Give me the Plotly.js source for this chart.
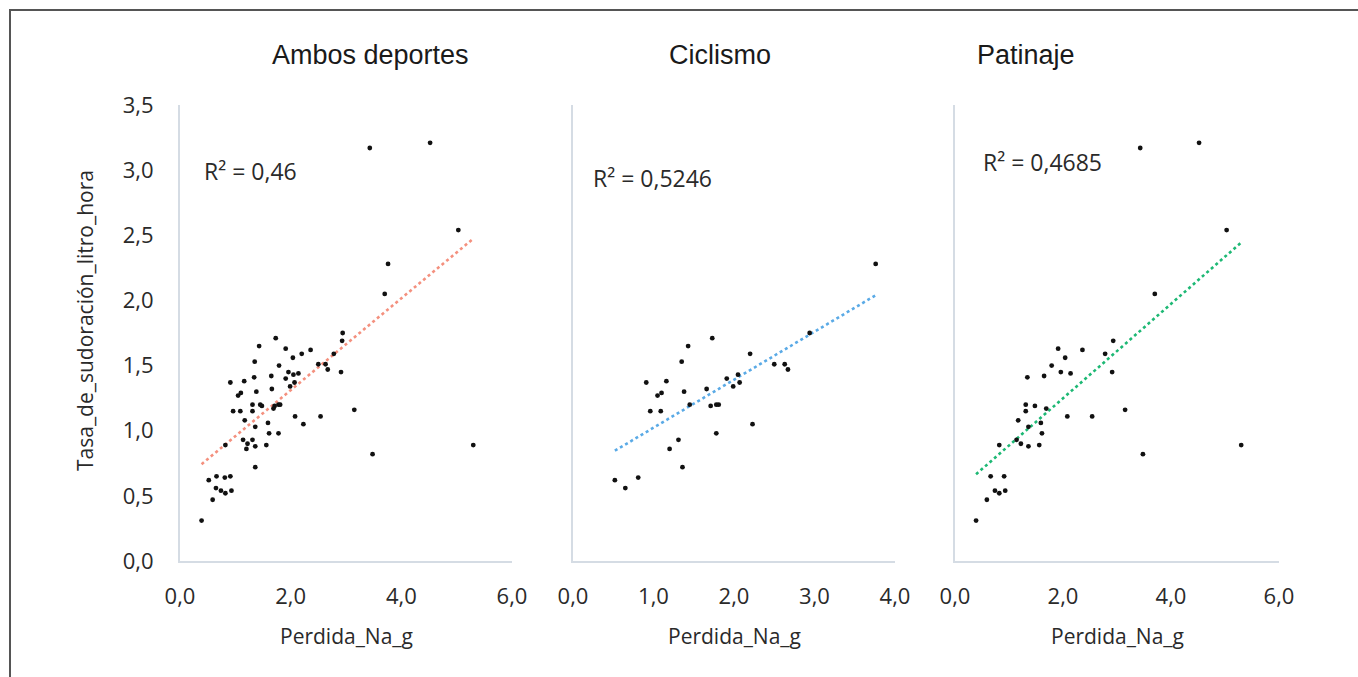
<!DOCTYPE html>
<html>
<head>
<meta charset="utf-8">
<script src="https://cdn.plot.ly/plotly-3.0.1.min.js"></script>
<style>html,body{margin:0;padding:0;background:#fff;}#chart{width:1358px;height:677px;}</style>
</head>
<body>
<div id="chart"></div>
<script>
// ---- Data ----
const panelTitles = ["Ambos deportes", "Ciclismo", "Patinaje"];
const xAxisTitle = "Perdida_Na_g";
const yAxisTitle = "Tasa_de_sudoración_litro_hora";
const r2Labels = ["R² = 0,46", "R² = 0,5246", "R² = 0,4685"];

const ciclismoNa = [3.76, 2.94, 1.73, 1.43, 2.20, 1.35, 2.50, 2.63, 2.67, 1.91, 2.05, 0.91, 1.16, 2.07, 1.99, 1.66, 1.38, 1.05, 1.10, 1.45, 1.71, 1.78, 1.81, 0.96, 1.09, 2.23, 1.78, 1.31, 1.20, 1.36, 0.52, 0.65, 0.81];
const ciclismoTasa = [2.28, 1.75, 1.71, 1.65, 1.59, 1.53, 1.51, 1.51, 1.47, 1.40, 1.43, 1.37, 1.38, 1.37, 1.34, 1.32, 1.30, 1.27, 1.29, 1.20, 1.19, 1.20, 1.20, 1.15, 1.15, 1.05, 0.98, 0.93, 0.86, 0.72, 0.62, 0.56, 0.64];

const patinajeNa = [3.43, 4.52, 5.03, 3.70, 2.93, 1.91, 2.36, 2.78, 2.04, 1.79, 1.96, 2.14, 2.91, 1.34, 1.65, 1.31, 1.31, 1.48, 1.69, 2.08, 2.54, 3.15, 1.17, 1.59, 1.36, 1.61, 1.14, 1.22, 1.36, 1.56, 0.82, 3.48, 5.30, 0.66, 0.91, 0.74, 0.82, 0.93, 0.59, 0.39];
const patinajeTasa = [3.17, 3.21, 2.54, 2.05, 1.69, 1.63, 1.62, 1.59, 1.56, 1.50, 1.45, 1.44, 1.45, 1.41, 1.42, 1.20, 1.15, 1.19, 1.17, 1.11, 1.11, 1.16, 1.08, 1.06, 1.03, 0.98, 0.93, 0.90, 0.88, 0.89, 0.89, 0.82, 0.89, 0.65, 0.65, 0.54, 0.52, 0.54, 0.47, 0.31];

const ambosNa = ciclismoNa.concat(patinajeNa);
const ambosTasa = ciclismoTasa.concat(patinajeTasa);

const xRanges = [[0, 6], [0, 4], [0, 6]];
const xDticks = [2, 1, 2];
const trendColors = ["#F4907E", "#5AAAE6", "#1DB874"];

// ---- Helpers ----
const W = 1358, H = 677;
const px = v => v / W, py = v => 1 - v / H;

function ols(x, y) {
  const n = x.length;
  const mx = x.reduce((a, b) => a + b, 0) / n;
  const my = y.reduce((a, b) => a + b, 0) / n;
  let sxy = 0, sxx = 0;
  for (let i = 0; i < n; i++) { sxy += (x[i] - mx) * (y[i] - my); sxx += (x[i] - mx) ** 2; }
  const b = sxy / sxx;
  return { b: b, a: my - b * mx };
}

const sets = [[ambosNa, ambosTasa], [ciclismoNa, ciclismoTasa], [patinajeNa, patinajeTasa]];
const plotLeft = [180, 573, 955], plotRight = [512, 895, 1279];
const plotTop = 105, plotBottom = 561;

const traces = [];
sets.forEach((s, i) => {
  const xa = i === 0 ? 'x' : 'x' + (i + 1);
  const ya = i === 0 ? 'y' : 'y' + (i + 1);
  const fit = ols(s[0], s[1]);
  const xmin = Math.min(...s[0]), xmax = Math.max(...s[0]);
  traces.push({
    x: [xmin, xmax], y: [fit.a + fit.b * xmin, fit.a + fit.b * xmax],
    xaxis: xa, yaxis: ya, mode: 'lines', type: 'scatter', hoverinfo: 'skip',
    line: { color: trendColors[i], width: 2.6, dash: 'dot' }
  });
  traces.push({
    x: s[0], y: s[1], xaxis: xa, yaxis: ya, mode: 'markers', type: 'scatter',
    marker: { size: 4.8, color: '#111111' }
  });
});

const tickFont = { family: 'Open Sans, sans-serif', size: 22, color: '#2a2a2a' };
const layout = {
  width: W, height: H,
  margin: { l: 0, r: 0, t: 0, b: 0 },
  paper_bgcolor: '#ffffff', plot_bgcolor: '#ffffff',
  showlegend: false,
  separators: ',.',
  annotations: [],
  shapes: [{
    type: 'rect', xref: 'paper', yref: 'paper',
    x0: px(10), x1: px(1380), y0: py(700), y1: py(10),
    line: { color: '#555555', width: 2 }, fillcolor: 'rgba(0,0,0,0)', layer: 'above'
  }]
};

for (let i = 0; i < 3; i++) {
  const sfx = i === 0 ? '' : String(i + 1);
  layout['xaxis' + sfx] = {
    domain: [px(plotLeft[i]), px(plotRight[i])],
    anchor: i === 0 ? 'y' : 'y' + (i + 1),
    range: xRanges[i], dtick: xDticks[i], tick0: 0, tickformat: '.1f',
    showgrid: false, zeroline: false, showline: true, linecolor: '#D5DCE4', linewidth: 2,
    ticks: '', ticklabelstandoff: 15, tickfont: tickFont, fixedrange: true
  };
  layout['yaxis' + sfx] = {
    domain: [py(plotBottom), py(plotTop)],
    anchor: i === 0 ? 'x' : 'x' + (i + 1),
    range: [0, 3.5], dtick: 0.5, tick0: 0, tickformat: '.1f',
    showgrid: false, zeroline: false, showline: true, linecolor: '#D5DCE4', linewidth: 2,
    ticks: '', ticklabelstandoff: 20, tickfont: tickFont, showticklabels: i === 0, fixedrange: true
  };
}

const titleFont = { family: 'Liberation Sans, Arial, sans-serif', size: 27, color: '#1a1a1a' };
const titleX = [270, 667, 975];
panelTitles.forEach((t, i) => layout.annotations.push({
  text: t, xref: 'paper', yref: 'paper', x: px(titleX[i]), y: py(55),
  xanchor: 'left', yanchor: 'middle', showarrow: false, font: titleFont
}));

const r2X = [202, 591, 981], r2Y = [171, 178, 162];
r2Labels.forEach((t, i) => layout.annotations.push({
  text: t, xref: 'paper', yref: 'paper', x: px(r2X[i]), y: py(r2Y[i]),
  xanchor: 'left', yanchor: 'middle', showarrow: false,
  font: { family: 'Open Sans, sans-serif', size: 23, color: '#2a2a2a' }
}));

for (let i = 0; i < 3; i++) layout.annotations.push({
  text: xAxisTitle, xref: 'paper', yref: 'paper', x: px((plotLeft[i] + plotRight[i]) / 2), y: py(636),
  xanchor: 'center', yanchor: 'middle', showarrow: false,
  font: { family: 'Open Sans, sans-serif', size: 21, color: '#2a2a2a' }
});
layout.annotations.push({
  text: yAxisTitle, xref: 'paper', yref: 'paper', x: px(85), y: py(321), textangle: -90,
  xanchor: 'center', yanchor: 'middle', showarrow: false,
  font: { family: 'Open Sans, sans-serif', size: 21, color: '#2a2a2a' }
});

Plotly.newPlot('chart', traces, layout, { staticPlot: true, displayModeBar: false });
</script>
</body>
</html>
